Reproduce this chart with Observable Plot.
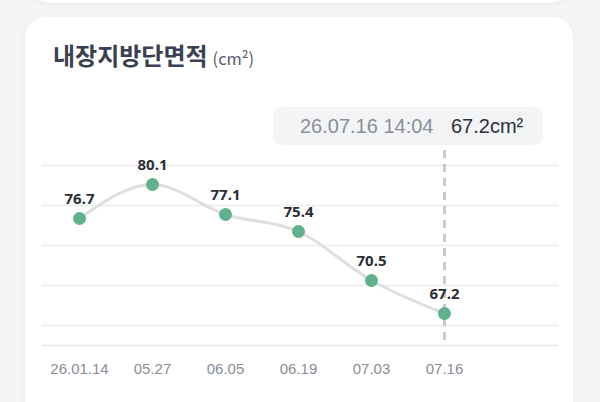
<!DOCTYPE html>
<html><head><meta charset="utf-8">
<script src="https://cdn.jsdelivr.net/npm/d3@7"></script>
<script src="https://cdn.jsdelivr.net/npm/@observablehq/plot@0.6"></script>
<style>
html,body{margin:0;padding:0;width:600px;height:402px;overflow:hidden;background:#f4f5f7;}
.topcard{position:absolute;left:30px;top:-40px;width:540px;height:43px;background:#fff;border-radius:20px;box-shadow:0 1px 6px rgba(0,0,0,0.05);}
.card{position:absolute;left:25px;top:17px;width:548px;height:420px;background:#fff;border-radius:20px;box-shadow:0 1px 8px rgba(0,0,0,0.04);}
.title{position:absolute;left:53px;top:37px;font-family:"Noto Sans CJK KR","Noto Sans",sans-serif;color:#3b3f52;white-space:nowrap;}
.title b{font-size:24px;font-weight:700;}
.title span{font-size:16.5px;color:#585c6a;margin-left:5px;}
.tip{position:absolute;left:273px;top:107px;width:270px;height:38px;background:#f3f4f6;border-radius:9px;font-family:"Liberation Sans",Arial,sans-serif;font-size:20px;line-height:38px;white-space:nowrap;}
.tip .d{position:absolute;left:27px;color:#8b8f99;}
.tip .v{position:absolute;left:178px;color:#2c2f38;}
#chart{position:absolute;left:0;top:100px;}
</style></head>
<body>
<div class="topcard"></div>
<div class="card"></div>
<div class="title"><b>내장지방단면적</b><span>(cm²)</span></div>
<div id="chart"></div>
<div class="tip"><span class="d" id="tipd"></span><span class="v" id="tipv"></span></div>
<script>
const dates = ["26.01.14", "05.27", "06.05", "06.19", "07.03", "07.16"];
const values = [76.7, 80.1, 77.1, 75.4, 70.5, 67.2];
const gridValues = [66, 70, 74, 78, 82];
const axisBase = [64];
const selectedDate = "07.16";
const selectedStamp = "26.07.16 14:04";
const selectedValue = 67.2;
const unit = "cm²";

const data = dates.map((d, i) => ({date: d, value: values[i]}));

const chart = Plot.plot({
  width: 600,
  height: 292,
  marginLeft: 42,
  marginRight: 42,
  marginTop: 45,
  marginBottom: 47,
  style: {background: "transparent", fontFamily: "'Liberation Sans', Arial, sans-serif"},
  x: {type: "point", domain: dates, range: [79, 444.3], padding: 0, label: null},
  y: {domain: [64, 84], range: [245, 45], axis: null, label: null},
  marks: [
    Plot.ruleY(gridValues, {stroke: "#ececee", strokeWidth: 1.3}),
    Plot.ruleY(axisBase, {stroke: "#e8e8ea", strokeWidth: 1.3}),
    Plot.ruleX([selectedDate], {x: d => d, y1: 83.5, y2: 64.5, stroke: "#c9cacd", strokeWidth: 3, strokeDasharray: "8,6"}),
    Plot.line(data, {x: "date", y: "value", stroke: "#dedfe1", strokeWidth: 3, curve: "monotone-x"}),
    Plot.dot(data, {x: "date", y: "value", r: 6.5, fill: "#61b18f", stroke: "none"}),
    Plot.text(data, {x: "date", y: "value", text: d => d.value.toFixed(1), dy: -19, fontSize: 15, fontWeight: 700, fill: "#2b2e36", fontFamily: "'Noto Sans', sans-serif"}),
    Plot.axisX({tickSize: 0, tickPadding: 18, fontSize: 15, color: "#8a8e97", label: null})
  ]
});
document.getElementById("chart").appendChild(chart);
document.getElementById("tipd").textContent = selectedStamp;
document.getElementById("tipv").textContent = selectedValue.toFixed(1) + unit;
</script>
</body></html>
